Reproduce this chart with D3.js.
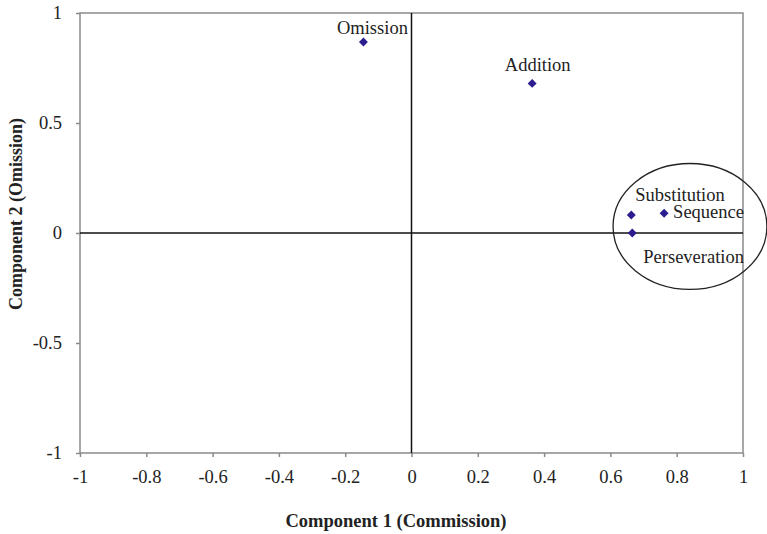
<!DOCTYPE html>
<html>
<head>
<meta charset="utf-8">
<script src="https://cdn.jsdelivr.net/npm/d3@7"></script>
<style>
  body { margin: 0; background: #fff; }
  svg text { font-family: "Liberation Serif", "Times New Roman", serif; }
</style>
</head>
<body>
<svg id="chart" width="767" height="534"></svg>
<script>
// data
const labels = ["Omission", "Addition", "Substitution", "Sequence", "Perseveration"];
const comp1 = [-0.145, 0.364, 0.663, 0.762, 0.666];
const comp2 = [0.868, 0.68, 0.082, 0.09, 0.0];
const xTicks = [-1, -0.8, -0.6, -0.4, -0.2, 0, 0.2, 0.4, 0.6, 0.8, 1];
const yTicks = [-1, -0.5, 0, 0.5, 1];
// circled group (data units)
const ringCenter = [0.84, 0.03];
const ringRadius = [0.232, 0.286];

const svg = d3.select("#chart");
const plotL = 80, plotR = 743, plotT = 13, plotB = 453;
const serif = "Liberation Serif, Times New Roman, serif";
const fs = 18.5;

const x = d3.scaleLinear().domain([-1, 1]).range([plotL, plotR]);
const y = d3.scaleLinear().domain([-1, 1]).range([plotB, plotT]);

// frame
svg.append("rect")
  .attr("x", plotL).attr("y", plotT)
  .attr("width", plotR - plotL).attr("height", plotB - plotT)
  .attr("fill", "none").attr("stroke", "#8a8a8a").attr("stroke-width", 1.5);

// axes (hyphen minus like the original)
const xAxis = d3.axisBottom(x).tickValues(xTicks).tickSize(4).tickSizeOuter(0)
  .tickFormat(d => String(+d.toFixed(1)));
const gx = svg.append("g").attr("transform", `translate(0,${plotB})`)
  .call(xAxis).attr("font-family", serif);
gx.select(".domain").remove();
gx.selectAll("line").attr("stroke", "#8a8a8a").attr("stroke-width", 1.5);
gx.selectAll("text").attr("font-size", fs).attr("fill", "#222").attr("y", 30).attr("dy", null);

const yAxis = d3.axisLeft(y).tickValues(yTicks).tickSize(4).tickSizeOuter(0)
  .tickFormat(d => String(d));
const gy = svg.append("g").attr("transform", `translate(${plotL},0)`)
  .call(yAxis).attr("font-family", serif);
gy.select(".domain").remove();
gy.selectAll("line").attr("stroke", "#8a8a8a").attr("stroke-width", 1.5);
gy.selectAll("text").attr("font-size", fs).attr("fill", "#222").attr("x", -18);

// zero lines
svg.append("line")
  .attr("x1", x(-1)).attr("x2", x(1)).attr("y1", y(0)).attr("y2", y(0))
  .attr("stroke", "#111").attr("stroke-width", 1.5);
svg.append("line")
  .attr("x1", x(0)).attr("x2", x(0)).attr("y1", y(1)).attr("y2", y(-1))
  .attr("stroke", "#111").attr("stroke-width", 1.5);

// ellipse around the commission group
svg.append("ellipse")
  .attr("cx", x(ringCenter[0])).attr("cy", y(ringCenter[1]))
  .attr("rx", x(ringRadius[0]) - x(0)).attr("ry", y(0) - y(ringRadius[1]))
  .attr("fill", "none").attr("stroke", "#222").attr("stroke-width", 1.3);

// points: square diamonds
const pts = labels.map((l, i) => ({ label: l, cx: comp1[i], cy: comp2[i] }));
svg.selectAll(".pt")
  .data(pts)
  .join("path")
  .attr("class", "pt")
  .attr("d", d3.symbol(d3.symbolSquare, 40))
  .attr("transform", d => `translate(${x(d.cx)},${y(d.cy)}) rotate(45)`)
  .attr("fill", "#2b1d8f");

// label placement relative to each point (pixels)
const labelOffset = {
  "Omission": [9, -8, "middle"],
  "Addition": [5.5, -12, "middle"],
  "Substitution": [4, -14, "start"],
  "Sequence": [9, 5, "start"],
  "Perseveration": [11, 30, "start"]
};
svg.selectAll(".lbl")
  .data(pts)
  .join("text")
  .attr("class", "lbl")
  .attr("x", d => x(d.cx) + labelOffset[d.label][0])
  .attr("y", d => y(d.cy) + labelOffset[d.label][1])
  .attr("text-anchor", d => labelOffset[d.label][2])
  .attr("font-size", fs)
  .attr("fill", "#222")
  .text(d => d.label);

// titles
svg.append("text")
  .attr("x", 396).attr("y", 527)
  .attr("text-anchor", "middle").attr("font-size", 18.5).attr("font-weight", "bold")
  .attr("fill", "#222")
  .text("Component 1 (Commission)");
svg.append("text")
  .attr("transform", "translate(22,214) rotate(-90)")
  .attr("text-anchor", "middle").attr("font-size", 18).attr("font-weight", "bold")
  .attr("fill", "#222")
  .text("Component 2 (Omission)");
</script>
</body>
</html>
